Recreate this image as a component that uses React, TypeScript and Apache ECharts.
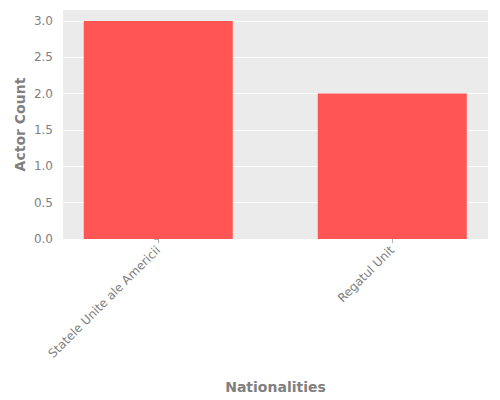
import { useEffect, useRef } from 'react';
import * as echarts from 'echarts';

const nationalities = ['Statele Unite ale Americii', 'Regatul Unit'];
const actorCounts = [3, 2];
const yTicks = [0, 0.5, 1, 1.5, 2, 2.5, 3];

const FONT = '"DejaVu Sans", sans-serif';
const TEXT_GRAY = '#808080';

export default function App() {
  const chartRef = useRef<HTMLDivElement>(null);

  useEffect(() => {
    if (!chartRef.current) return;
    const chart = echarts.init(chartRef.current, null, { renderer: 'svg' });
    chart.setOption({
      animation: false,
      textStyle: { fontFamily: FONT },
      grid: {
        left: 63,
        right: 12,
        top: 10,
        bottom: 161,
        show: true,
        backgroundColor: '#EBEBEB',
        borderWidth: 0,
      },
      xAxis: {
        type: 'value',
        min: -0.407,
        max: 1.409,
        name: 'Nationalities',
        nameLocation: 'middle',
        nameGap: 141,
        nameMoveOverlap: false,
        nameTextStyle: { color: TEXT_GRAY, fontSize: 14, fontWeight: 'bold', fontFamily: FONT },
        axisLine: { show: false },
        axisTick: {
          show: true,
          length: 4,
          lineStyle: { color: '#b0b0b0' },
          customValues: nationalities.map((_, i) => i),
        },
        axisLabel: {
          rotate: 45,
          margin: 9,
          color: TEXT_GRAY,
          fontSize: 12,
          fontFamily: FONT,
          customValues: nationalities.map((_, i) => i),
          formatter: (v: number) => nationalities[Math.round(v)] ?? '',
        },
        splitLine: { show: false },
      },
      yAxis: {
        type: 'value',
        min: 0,
        max: 3.15,
        name: 'Actor Count',
        nameLocation: 'middle',
        nameGap: 36,
        nameMoveOverlap: false,
        nameTextStyle: { color: TEXT_GRAY, fontSize: 14, fontWeight: 'bold', fontFamily: FONT },
        axisLine: { show: false },
        axisTick: {
          show: true,
          length: 4,
          lineStyle: { color: '#b0b0b0' },
          customValues: yTicks,
        },
        axisLabel: {
          color: TEXT_GRAY,
          fontSize: 12,
          margin: 10,
          fontFamily: FONT,
          customValues: yTicks,
          formatter: (v: number) => v.toFixed(1),
        },
        splitLine: { show: true, lineStyle: { color: '#ffffff', width: 1 } },
      },
      series: [
        {
          type: 'bar',
          barWidth: 149,
          itemStyle: { color: '#FF5555' },
          data: actorCounts.map((v, i) => [i, v]),
        },
      ],
    });
    return () => chart.dispose();
  }, []);

  return <div ref={chartRef} style={{ width: 500, height: 400, margin: -8 }} />;
}
